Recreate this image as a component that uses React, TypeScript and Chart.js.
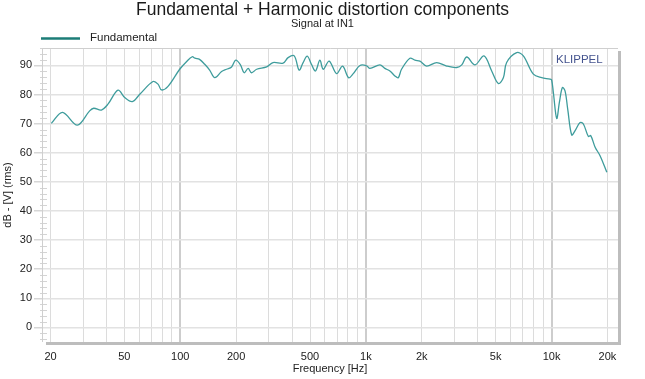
import React, { useEffect, useRef } from "react";
import { Chart, registerables } from "chart.js";

Chart.register(...registerables);

const FREQS = [
  20.2, 23.2, 27.9, 32.5, 34.2, 37.6, 40.8, 46.2, 50.2, 55.2, 60.5, 71.3, 75.9, 79.2, 85.9,
  99.3, 108, 116, 120, 127, 135.5, 144, 153.5, 167, 177.5, 189, 199, 211, 221, 232, 242, 258,
  292, 316, 358, 381, 411, 437, 459, 483, 509, 535, 565, 589, 634, 695, 749, 807, 855, 929,
  1009, 1051, 1190, 1265, 1347, 1433, 1494, 1556, 1726, 1837, 1954, 2124, 2405, 2724, 3085,
  3283, 3494, 3870, 4326, 4760, 5167, 5500, 5730, 6490, 7047, 7980, 8850, 9820, 10010, 10226,
  10660, 11020, 11440, 11820, 12220, 12840, 13390, 14250, 14840, 15790, 16260, 17170, 18250,
  19850,
];

const LEVELS = [
  70.1, 73.9, 69.5, 74.4, 75.3, 74.7, 76.7, 81.5, 79.0, 77.6, 80.1, 84.5, 83.6, 81.6, 82.8,
  88.7, 91.3, 93.0, 92.5, 92.1, 90.4, 88.4, 85.8, 87.9, 88.7, 89.5, 91.8, 90.2, 87.5, 89.0, 87.5, 88.7,
  89.5, 91.0, 90.8, 92.7, 93.3, 88.4, 91.0, 93.2, 90.4, 88.1, 91.8, 88.7, 91.5, 87.2, 89.8, 85.8, 87.2, 90.0,
  89.9, 89.0, 90.2, 89.0, 88.1, 86.4, 85.8, 88.7, 92.5, 91.8, 91.5, 89.8, 91.0, 89.8, 89.3,
  90.2, 92.9, 90.2, 93.3, 88.1, 83.8, 85.8, 91.0, 94.4, 93.3, 87.0, 85.8, 85.3, 85.0, 80.7,
  71.8, 77.3, 82.4, 81.3, 75.0, 66.1, 67.6, 70.4, 69.9, 65.6, 65.9, 61.9, 59.0,
  53.3,
];

const GRID_FREQS = [
  20, 30, 40, 50, 60, 70, 80, 90, 100, 200, 300, 400, 500, 600, 700, 800, 900, 1000,
  2000, 3000, 4000, 5000, 6000, 7000, 8000, 9000, 10000, 20000,
];
const LABELED_FREQS = [20, 50, 100, 200, 500, 1000, 2000, 5000, 10000, 20000];
const DECADES = [100, 1000, 10000];
const Y_TICKS = [0, 10, 20, 30, 40, 50, 60, 70, 80, 90];

const TITLE = "Fundamental + Harmonic distortion components";
const SUBTITLE = "Signal at IN1";
const SERIES_NAME = "Fundamental";
const BRAND = "KLIPPEL";
const X_TITLE = "Frequency [Hz]";
const Y_TITLE = "dB - [V] (rms)";

const FONT = "'Liberation Sans', Arial, sans-serif";

function fmtFreq(v: number): string {
  return v >= 1000 ? v / 1000 + "k" : String(v);
}

const decorPlugin = {
  id: "decor",
  afterDraw(chart: any) {
    const { ctx, chartArea } = chart;
    const { left, right, top, bottom } = chartArea;
    const yScale = chart.scales.y;
    ctx.save();

    // minor y ticks
    ctx.strokeStyle = "#d4d4d4";
    ctx.lineWidth = 1;
    for (let v = -4; v <= 96; v += 2) {
      if (v % 10 === 0) continue;
      const y = Math.round(yScale.getPixelForValue(v)) + 0.5;
      ctx.beginPath();
      ctx.moveTo(left - 2, y);
      ctx.lineTo(left + 5, y);
      ctx.stroke();
    }

    // frame
    ctx.strokeStyle = "#cfcfcf";
    ctx.lineWidth = 1;
    ctx.beginPath();
    ctx.moveTo(left + 0.5, bottom);
    ctx.lineTo(left + 0.5, top + 0.5);
    ctx.lineTo(right, top + 0.5);
    ctx.stroke();

    // shadow
    ctx.fillStyle = "#bdbdbd";
    ctx.fillRect(right, top + 3, 3, bottom - top);
    ctx.fillRect(left + 4, bottom, right - left - 1, 3);

    // title + subtitle
    const cx = chart.width / 2;
    ctx.fillStyle = "#1a1a1a";
    ctx.textAlign = "center";
    ctx.textBaseline = "middle";
    ctx.font = `17.5px ${FONT}`;
    ctx.fillText(TITLE, cx, 10);
    ctx.font = `11px ${FONT}`;
    ctx.fillStyle = "#222";
    ctx.fillText(SUBTITLE, cx, 24);

    // legend
    ctx.strokeStyle = "#1c7d77";
    ctx.lineWidth = 2.5;
    ctx.beginPath();
    ctx.moveTo(41, 38.5);
    ctx.lineTo(80, 38.5);
    ctx.stroke();
    ctx.textAlign = "left";
    ctx.font = `11.5px ${FONT}`;
    ctx.fillStyle = "#222";
    ctx.fillText(SERIES_NAME, 90, 38);

    // brand
    ctx.font = `11.5px ${FONT}`;
    ctx.fillStyle = "#45548f";
    ctx.fillText(BRAND, 556, 60);

    ctx.restore();
  },
};

export default function App() {
  const canvasRef = useRef<HTMLCanvasElement | null>(null);

  useEffect(() => {
    const canvas = canvasRef.current;
    if (!canvas) return;
    const points = FREQS.map((f, i) => ({ x: f, y: LEVELS[i] }));
    const chart = new Chart(canvas, {
      type: "line",
      data: {
        datasets: [
          {
            label: SERIES_NAME,
            data: points,
            borderColor: "#3e9c9c",
            borderWidth: 1.3,
            pointRadius: 0,
            tension: 0.35,
            fill: false,
          },
        ],
      },
      options: {
        animation: false,
        responsive: false,
        devicePixelRatio: 1,
        layout: { padding: { top: 48, left: 0, right: 27, bottom: 0 } },
        plugins: {
          legend: { display: false },
          title: { display: false },
          tooltip: { enabled: false },
        },
        scales: {
          x: {
            type: "logarithmic",
            min: 18,
            max: 22800,
            afterBuildTicks: (scale: any) => {
              scale.ticks = GRID_FREQS.map((v) => ({ value: v }));
            },
            afterFit: (scale: any) => {
              scale.height = 37;
            },
            ticks: {
              autoSkip: false,
              maxRotation: 0,
              minRotation: 0,
              padding: 8,
              color: "#222",
              font: { family: FONT, size: 11 },
              callback: (value: any) =>
                LABELED_FREQS.includes(Number(value)) ? fmtFreq(Number(value)) : "",
            },
            grid: {
              drawTicks: false,
              color: (c: any) =>
                c.tick && DECADES.includes(c.tick.value) ? "#cdcdcd" : "#dcdcdc",
              lineWidth: (c: any) => (c.tick && DECADES.includes(c.tick.value) ? 2 : 1),
            },
            border: { display: false },
            title: {
              display: true,
              text: X_TITLE,
              color: "#222",
              font: { family: FONT, size: 11 },
              padding: { top: 0, bottom: 3 },
            },
          },
          y: {
            type: "linear",
            min: -5,
            max: 96,
            afterBuildTicks: (scale: any) => {
              scale.ticks = Y_TICKS.map((v) => ({ value: v }));
            },
            afterFit: (scale: any) => {
              scale.width = 42;
            },
            ticks: {
              padding: 2,
              color: "#222",
              font: { family: FONT, size: 11 },
            },
            grid: {
              color: "#e2e2e2",
              lineWidth: 1.5,
              drawTicks: true,
              tickLength: 8,
              tickColor: "#d6d6d6",
            },
            border: { display: false },
            title: {
              display: true,
              text: Y_TITLE,
              color: "#222",
              font: { family: FONT, size: 11 },
              padding: { top: 1, bottom: 0 },
            },
          },
        },
      },
      plugins: [decorPlugin],
    } as any);
    return () => chart.destroy();
  }, []);

  return (
    <div style={{ position: "fixed", left: 0, top: 0, width: 645, height: 379, background: "#fff" }}>
      <canvas ref={canvasRef} width={645} height={379} style={{ width: 645, height: 379, display: "block" }} />
    </div>
  );
}
